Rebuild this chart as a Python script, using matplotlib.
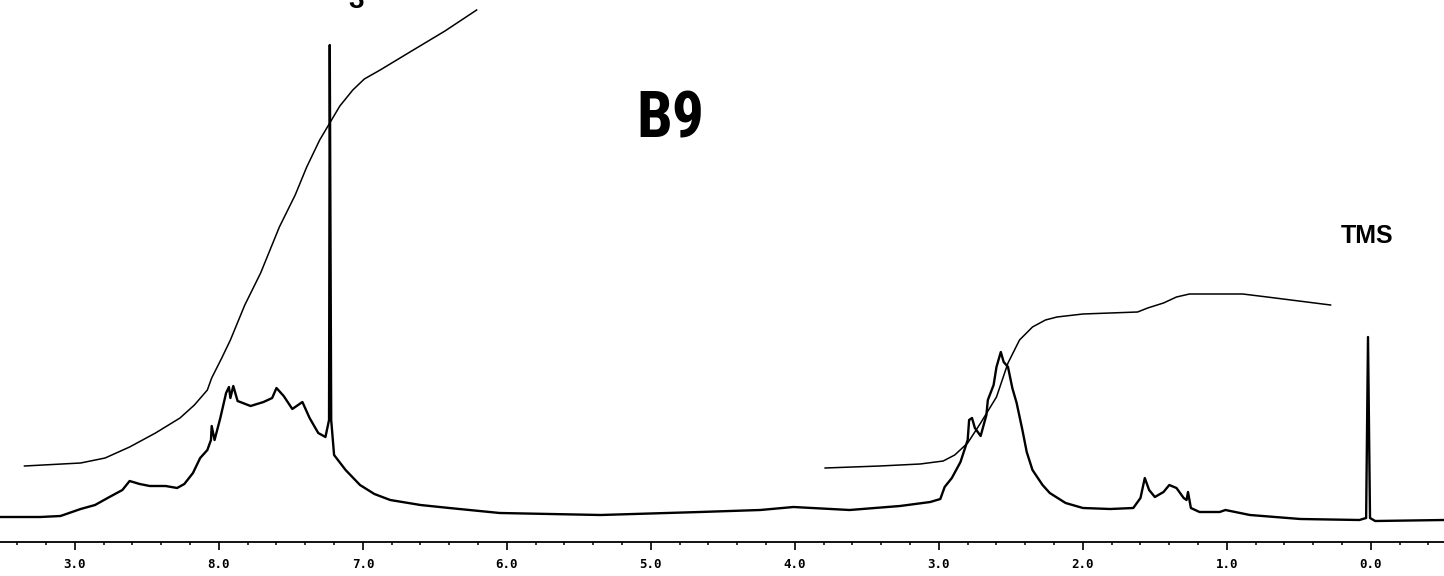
import matplotlib
matplotlib.use("Agg")
import matplotlib.pyplot as plt
from matplotlib import font_manager
from matplotlib.ticker import MultipleLocator, FixedLocator, FixedFormatter

# 1H NMR trace (chemical shift in ppm, height above the baseline axis)
spec_ppm = [
    9.52, 9.24, 9.10, 8.96, 8.86, 8.76, 8.67, 8.62, 8.55, 8.48, 8.37, 8.29,
    8.24, 8.18, 8.13, 8.08, 8.055, 8.05, 8.03, 7.99, 7.95, 7.93, 7.92, 7.90,
    7.87, 7.78, 7.69, 7.63, 7.60, 7.55, 7.49, 7.42, 7.37, 7.31, 7.26, 7.235,
    7.23, 7.22, 7.20, 7.12, 7.02, 6.92, 6.81, 6.60, 6.40, 6.05, 5.35, 4.66,
    4.24, 4.01, 3.62, 3.27, 3.06, 2.99, 2.96, 2.91, 2.85, 2.80, 2.79, 2.77,
    2.75, 2.71, 2.67, 2.66, 2.62, 2.60, 2.57, 2.55, 2.52, 2.49, 2.46, 2.42,
    2.39, 2.35, 2.28, 2.23, 2.12, 2.00, 1.81, 1.65, 1.60, 1.57, 1.54, 1.50,
    1.44, 1.40, 1.35, 1.30, 1.28, 1.27, 1.25, 1.19, 1.05, 1.01, 0.84, 0.49,
    0.08, 0.033, 0.02, 0.006, -0.03, -0.51,
]
spec_height = [
    25, 25, 26, 33, 37, 45, 52, 61, 58, 56, 56, 54,
    58, 69, 84, 92, 102, 116, 102, 124, 149, 155, 144, 156,
    141, 136, 140, 144, 154, 146, 133, 140, 124, 109, 105, 122,
    497, 122, 87, 72, 57, 48, 42, 37, 34, 29, 27, 30,
    32, 35, 32, 36, 40, 43, 55, 64, 80, 102, 122, 124,
    114, 106, 127, 142, 157, 175, 190, 180, 175, 154, 139, 112,
    90, 72, 57, 49, 39, 34, 33, 34, 44, 64, 52, 45,
    50, 57, 54, 44, 42, 50, 34, 30, 30, 32, 27, 23,
    22, 24, 205, 24, 21, 22,
]

# integral traces
int_left_ppm = [
    9.35, 8.96, 8.79, 8.62, 8.44, 8.27, 8.17, 8.08, 8.05, 7.98, 7.92, 7.82,
    7.71, 7.58, 7.47, 7.39, 7.30, 7.23, 7.16, 7.07, 6.99, 6.88, 6.65, 6.43,
    6.21,
]
int_left_height = [
    76, 79, 84, 95, 109, 124, 137, 152, 164, 184, 202, 237,
    269, 315, 347, 375, 402, 419, 436, 452, 463, 472, 492, 511,
    532,
]
int_right_ppm = [
    3.79, 3.41, 3.13, 2.97, 2.89, 2.80, 2.71, 2.60, 2.52, 2.44, 2.35, 2.26,
    2.18, 2.00, 1.62, 1.55, 1.44, 1.35, 1.26, 0.89, 0.72, 0.28,
]
int_right_height = [
    74, 76, 78, 81, 87, 99, 119, 145, 179, 202, 215, 222,
    225, 228, 230, 234, 239, 245, 248, 248, 245, 237,
]

tick_positions = [9, 8, 7, 6, 5, 4, 3, 2, 1, 0]
tick_labels = ["3.0", "8.0", "7.0", "6.0", "5.0", "4.0", "3.0", "2.0", "1.0", "0.0"]

W, H = 1444, 576
AXIS_Y = 542  # pixel row of the ppm axis line

# a narrow face for the big sample label, if one is installed
installed = {f.name for f in font_manager.fontManager.ttflist}
narrow = [n for n in ("Liberation Sans Narrow", "DejaVu Sans Condensed",
                      "Roboto Condensed", "Open Sans Condensed") if n in installed]
title_family = narrow + ["DejaVu Sans"]

fig = plt.figure(figsize=(W / 100, H / 100), dpi=100, facecolor="white")
ax = fig.add_axes([0, (H - AXIS_Y) / H, 1, AXIS_Y / H])
ax.set_xlim(9.52, 9.52 - W / 144)
ax.set_ylim(0, AXIS_Y)

ax.plot(spec_ppm, spec_height, color="black", lw=1.7, solid_joinstyle="round")
ax.plot(int_left_ppm, int_left_height, color="black", lw=1.1)
ax.plot(int_right_ppm, int_right_height, color="black", lw=1.1)

for side in ("left", "right", "top"):
    ax.spines[side].set_visible(False)
ax.spines["bottom"].set_linewidth(1.3)
ax.yaxis.set_visible(False)

ax.xaxis.set_major_locator(FixedLocator(tick_positions))
ax.xaxis.set_major_formatter(FixedFormatter(tick_labels))
ax.xaxis.set_minor_locator(MultipleLocator(0.2))
ax.tick_params(axis="x", which="major", direction="out", length=5.5, width=1.2,
               pad=6, labelsize=9)
ax.tick_params(axis="x", which="minor", direction="out", length=2.2, width=1.1)
for lbl in ax.get_xticklabels():
    lbl.set_fontfamily("DejaVu Sans Mono")
    lbl.set_fontweight("bold")

ax.text(670 / W, 1 - 137 / AXIS_Y, "B9", transform=ax.transAxes, ha="center",
        va="baseline", fontsize=46 if narrow else 44, fontweight="bold",
        fontstretch="condensed", family=title_family)
ax.text(1367 / W, 1 - 243 / AXIS_Y, "TMS", transform=ax.transAxes, ha="center",
        va="baseline", fontsize=18, fontweight="bold",
        family=["Liberation Sans", "DejaVu Sans"])
# bottom of a label cut off by the top edge of the scan
fig.text(356 / W, 1 - 8 / H, "3", ha="center", va="baseline", fontsize=20,
         fontweight="bold", family=["Liberation Sans", "DejaVu Sans"])

fig.savefig("out.png", dpi=100, facecolor="white")
